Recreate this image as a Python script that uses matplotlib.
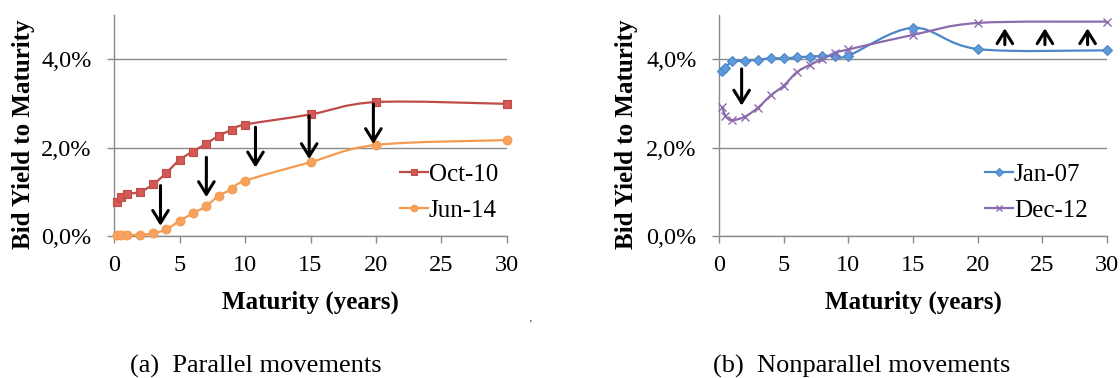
import numpy as np
import matplotlib
matplotlib.use('Agg')
import matplotlib.pyplot as plt
from matplotlib.path import Path
from matplotlib.patches import PathPatch

plt.rcParams['font.family'] = ['Liberation Serif', 'DejaVu Serif']

# maturities in years
maturity = [0.25, 0.5, 1, 2, 3, 4, 5, 6, 7, 8, 9, 10, 15, 20, 30]

# (a) parallel movements, yields in %
oct_10 = [0.76, 0.89, 0.95, 1.00, 1.17, 1.43, 1.72, 1.91, 2.08, 2.27, 2.40, 2.52, 2.75, 3.03, 2.99]
jun_14 = [0.02, 0.02, 0.02, 0.03, 0.06, 0.15, 0.34, 0.51, 0.67, 0.91, 1.06, 1.25, 1.67, 2.06, 2.17]

# (b) nonparallel movements, yields in %
jan_07 = [3.73, 3.80, 3.95, 3.96, 3.99, 4.02, 4.02, 4.04, 4.06, 4.07, 4.08, 4.08, 4.71, 4.23, 4.20]
dec_12 = [2.92, 2.72, 2.62, 2.70, 2.90, 3.18, 3.40, 3.70, 3.87, 4.00, 4.15, 4.22, 4.55, 4.82, 4.85]

xticks = [0, 5, 10, 15, 20, 25, 30]
yticks = [0, 2, 4]
ytick_labels = ['0,0%', '2,0%', '4,0%']

# arrows: (maturity, from yield, to yield)
arrows_a = [(3.55, 1.14, 0.23), (7.05, 1.78, 0.88), (10.8, 2.46, 1.55),
            (14.9, 2.72, 1.74), (19.8, 2.99, 2.08)]
arrows_b = [(1.75, 3.78, 2.95), (22.1, 4.33, 4.70), (25.2, 4.33, 4.70),
            (28.5, 4.33, 4.70)]

captions = ['(a)  Parallel movements', '(b)  Nonparallel movements']

GRID = '#8a8a8a'


def smooth_path(x, y):
    # excel-like smoothed line (catmull-rom as cubic bezier)
    pts = np.column_stack([x, y]).astype(float)
    n = len(pts)
    verts = [pts[0]]
    codes = [Path.MOVETO]
    for i in range(n - 1):
        p0 = pts[max(i - 1, 0)]
        p1 = pts[i]
        p2 = pts[i + 1]
        p3 = pts[min(i + 2, n - 1)]
        verts += [p1 + (p2 - p0) / 6, p2 - (p3 - p1) / 6, p2]
        codes += [Path.CURVE4] * 3
    return Path(verts, codes)


def draw_series(ax, x, y, label, color, face, marker, ms, mew=0.8):
    ax.add_patch(PathPatch(smooth_path(x, y), fill=False, ec=color, lw=1.6, zorder=3))
    ax.plot(x, y, ls='none', marker=marker, ms=ms, mfc=face, mec=color,
            mew=mew, zorder=4, clip_on=False)
    ax.plot([], [], color=color, lw=1.6, marker=marker, ms=ms * 0.75,
            mfc=face, mec=color, mew=mew, label=label)


def style_axes(ax):
    ax.set_xlim(0, 30)
    ax.set_ylim(0, 5)
    ax.set_xticks(xticks)
    ax.set_yticks(yticks)
    ax.set_yticklabels(ytick_labels)
    for s in ['top', 'right']:
        ax.spines[s].set_visible(False)
    for s in ['left', 'bottom']:
        ax.spines[s].set_color(GRID)
        ax.spines[s].set_linewidth(1.0)
    ax.tick_params(axis='both', direction='out', length=5, width=1.0,
                   color=GRID, labelsize=17.5)
    ax.tick_params(axis='x', pad=9)
    ax.tick_params(axis='y', pad=11)
    ax.yaxis.grid(True, color=GRID, lw=1.0)
    ax.set_axisbelow(True)


def draw_arrows(ax, arrows):
    for x, y0, y1 in arrows:
        ax.annotate('', xy=(x, y1), xytext=(x, y0),
                    arrowprops=dict(arrowstyle='->,head_length=0.45,head_width=0.28',
                                    lw=2.2, color='black', mutation_scale=20,
                                    shrinkA=0, shrinkB=0), zorder=5)


fig = plt.figure(figsize=(11.2, 3.78), dpi=100)
ax1 = fig.add_axes([114 / 1120, 142 / 378, 393 / 1120, 221 / 378])
ax2 = fig.add_axes([719 / 1120, 142 / 378, 388 / 1120, 221 / 378])

for ax in (ax1, ax2):
    style_axes(ax)

draw_series(ax1, maturity, oct_10, 'Oct-10', '#BE4B48', '#D35955', 's', 5.8)
draw_series(ax1, maturity, jun_14, 'Jun-14', '#F59A4E', '#F7A25E', 'o', 6.3)
draw_series(ax2, maturity, jan_07, 'Jan-07', '#4A86C8', '#5F9BD8', 'D', 5.2)
draw_series(ax2, maturity, dec_12, 'Dec-12', '#8B6BAE', '#8B6BAE', 'x', 6.3, mew=1.0)

draw_arrows(ax1, arrows_a)
draw_arrows(ax2, arrows_b)

for ax, lx in ((ax1, 0.728), (ax2, 0.686)):
    ax.legend(loc='upper left', bbox_to_anchor=(lx, 0.33), frameon=False,
              fontsize=18, handlelength=1.1, handletextpad=0.05,
              labelspacing=0.55, borderpad=0, borderaxespad=0)

# axis titles
for cx, ylx in ((310, 24), (913, 627)):
    fig.text(cx / 1120, 1 - 302 / 378, 'Maturity (years)', ha='center', va='center',
             fontsize=18, fontweight='bold')
    fig.text(ylx / 1120, 1 - 134 / 378, 'Bid Yield to Maturity', ha='center',
             va='center', rotation=90, fontsize=18, fontweight='bold')

fig.text(256 / 1120, 1 - 366 / 378, captions[0], ha='center', va='center', fontsize=19)
fig.text(862 / 1120, 1 - 366 / 378, captions[1], ha='center', va='center', fontsize=19)
fig.text(530 / 1120, 1 - 324 / 378, "'", ha='center', va='center', fontsize=7)

fig.savefig('out.png', dpi=100, facecolor='white')
